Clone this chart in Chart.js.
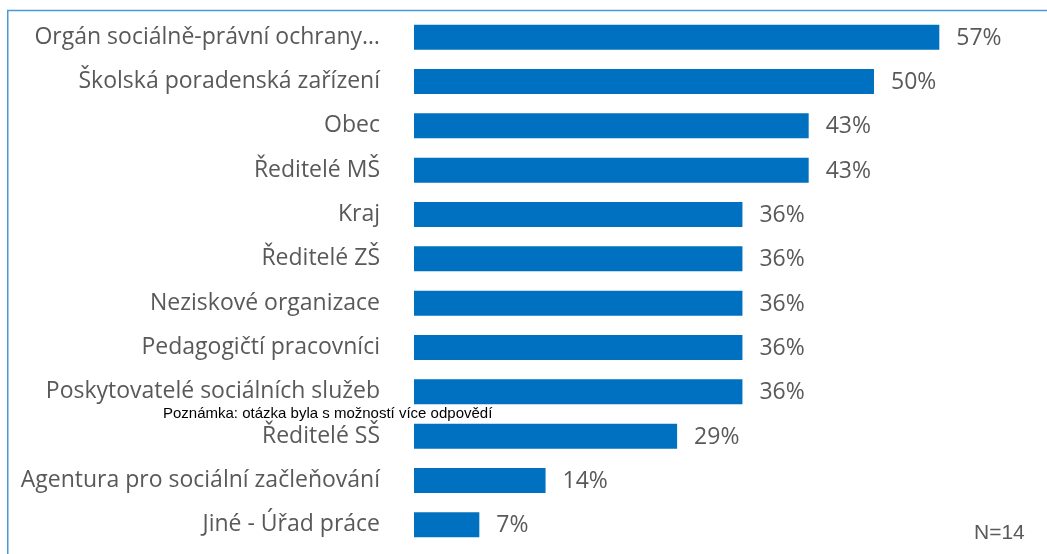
<!DOCTYPE html>
<html>
<head>
<meta charset="utf-8">
<script src="https://cdn.jsdelivr.net/npm/chart.js@4.4.1/dist/chart.umd.min.js"></script>
<style>
  html, body { margin: 0; padding: 0; background: #fff; }
  #wrap { position: relative; width: 1047px; height: 554px; overflow: hidden; }
  #note { position: absolute; left: 163px; top: 405px; font-family: "Liberation Sans", Arial, sans-serif; font-size: 15px; color: #000; white-space: nowrap; line-height: 15px; }
  #n { position: absolute; left: 974px; top: 521px; font-family: "Liberation Sans", Arial, sans-serif; font-size: 21px; color: #595959; white-space: nowrap; line-height: 21px; }
</style>
</head>
<body>
<div id="wrap">
  <canvas id="c" width="1047" height="554"></canvas>
  <div id="note">Poznámka: otázka byla s možností více odpovědí</div>
  <div id="n">N=14</div>
</div>
<script>
const categories = [
  "Orgán sociálně-právní ochrany…",
  "Školská poradenská zařízení",
  "Obec",
  "Ředitelé MŠ",
  "Kraj",
  "Ředitelé ZŠ",
  "Neziskové organizace",
  "Pedagogičtí pracovníci",
  "Poskytovatelé sociálních služeb",
  "Ředitelé SŠ",
  "Agentura pro sociální začleňování",
  "Jiné - Úřad práce"
];
const values = [57.1, 50, 42.9, 42.9, 35.7, 35.7, 35.7, 35.7, 35.7, 28.6, 14.3, 7.1];
const valueLabels = ["57%", "50%", "43%", "43%", "36%", "36%", "36%", "36%", "36%", "29%", "14%", "7%"];

const LABEL_FONT = '"Open Sans", sans-serif';
const TEXT_GRAY = "#595959";

const frame = {
  id: "frame",
  beforeDraw(chart) {
    const ctx = chart.ctx;
    ctx.save();
    ctx.strokeStyle = "#4A98D6";
    ctx.lineWidth = 1.5;
    ctx.beginPath();
    ctx.moveTo(1047, 10.5);
    ctx.lineTo(7.75, 10.5);
    ctx.lineTo(7.75, 554);
    ctx.stroke();
    ctx.restore();
  }
};

const valueLabelPlugin = {
  id: "valueLabels",
  afterDatasetsDraw(chart) {
    const ctx = chart.ctx;
    const meta = chart.getDatasetMeta(0);
    ctx.save();
    ctx.font = '23px ' + LABEL_FONT;
    ctx.fillStyle = TEXT_GRAY;
    ctx.textAlign = "left";
    ctx.textBaseline = "middle";
    meta.data.forEach((bar, i) => {
      ctx.fillText(valueLabels[i], bar.x + 17, bar.y + 1);
    });
    ctx.restore();
  }
};

new Chart(document.getElementById("c"), {
  type: "bar",
  data: {
    labels: categories,
    datasets: [{
      data: values,
      backgroundColor: "#0070C0",
      borderWidth: 0,
      categoryPercentage: 1.0,
      barPercentage: 0.565
    }]
  },
  options: {
    indexAxis: "y",
    responsive: false,
    animation: false,
    events: [],
    layout: { padding: { left: 0, right: 81, top: 15, bottom: 7 } },
    plugins: { legend: { display: false }, tooltip: { enabled: false } },
    scales: {
      x: { display: false, min: 0, max: 60 },
      y: {
        grid: { display: false },
        border: { display: false },
        ticks: {
          color: TEXT_GRAY,
          font: { family: LABEL_FONT, size: 23 },
          padding: 26,
          autoSkip: false
        },
        afterFit(scale) {
          scale.width = 414;
          scale.paddingTop = 0;
          scale.paddingBottom = 0;
        }
      }
    }
  },
  plugins: [frame, valueLabelPlugin]
});
</script>
</body>
</html>
